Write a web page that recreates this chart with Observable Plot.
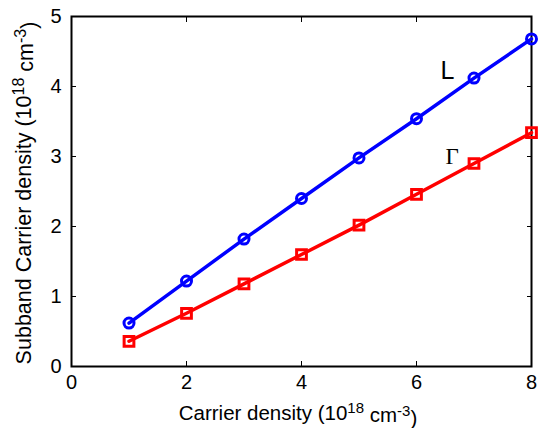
<!DOCTYPE html>
<html><head><meta charset="utf-8">
<script src="https://cdn.jsdelivr.net/npm/d3@7"></script>
<script src="https://cdn.jsdelivr.net/npm/@observablehq/plot@0.6"></script>
<style>body{margin:0;background:#fff}#c{width:540px;height:428px}</style>
</head><body><div id="c"></div>
<script>
const carrier = [1, 2, 3, 4, 5, 6, 7, 8];
const subbandL = [0.62, 1.22, 1.82, 2.40, 2.98, 3.54, 4.12, 4.68];
const subbandG = [0.36, 0.76, 1.18, 1.60, 2.02, 2.46, 2.90, 3.34];
const xTicks = [0, 2, 4, 6, 8];
const yTicks = [0, 1, 2, 3, 4, 5];

const dataL = carrier.map((x, i) => ({x, y: subbandL[i]}));
const dataG = carrier.map((x, i) => ({x, y: subbandG[i]}));
const font = "Liberation Sans, Arial, sans-serif";

const chart = Plot.plot({
  width: 540, height: 428,
  marginLeft: 71, marginRight: 9, marginTop: 16, marginBottom: 62,
  style: {fontFamily: font, fontSize: "20px", background: "#fff", color: "#000"},
  x: {domain: [0, 8]},
  y: {domain: [0, 5]},
  marks: [
    Plot.axisX(xTicks, {anchor: "bottom", tickSize: 0, tickPadding: 8, label: null, fontSize: 20, tickFormat: d3.format("d")}),
    Plot.axisY(yTicks, {anchor: "left", tickSize: 0, tickPadding: 10, label: null, fontSize: 20, tickFormat: d3.format("d")}),
    Plot.axisX(xTicks, {anchor: "bottom", tickSize: -5, text: null, label: null}),
    Plot.axisX(xTicks, {anchor: "top", tickSize: -5, text: null, label: null}),
    Plot.axisY(yTicks, {anchor: "left", tickSize: -5, text: null, label: null}),
    Plot.axisY(yTicks, {anchor: "right", tickSize: -5, text: null, label: null}),
    Plot.frame({stroke: "#000", strokeWidth: 2}),
    Plot.line(dataL, {x: "x", y: "y", stroke: "#0000ff", strokeWidth: 3.5}),
    Plot.dot(dataL, {x: "x", y: "y", r: 5, stroke: "#0000ff", strokeWidth: 3, fill: "none", symbol: "circle"}),
    Plot.line(dataG, {x: "x", y: "y", stroke: "#ff0000", strokeWidth: 3.5}),
    Plot.dot(dataG, {x: "x", y: "y", r: 5.5, stroke: "#ff0000", strokeWidth: 3, fill: "none", symbol: "square"}),
    Plot.text(["L"], {x: 6.54, y: 4.22, text: d => d, fontSize: 25, fontFamily: font, fill: "#000"}),
    Plot.text(["Γ"], {x: 6.62, y: 3.0, text: d => d, fontSize: 23, fontFamily: "Liberation Serif, Times New Roman, serif", fill: "#000"})
  ]
});
document.getElementById("c").appendChild(chart);

const svg = d3.select(chart);
function label(sel, base, sup) {
  sel.append("tspan").text(base + " (10");
  sel.append("tspan").attr("dy", "-0.45em").attr("font-size", sup).text("18");
  sel.append("tspan").attr("dy", "0.45em").text(" cm");
  sel.append("tspan").attr("dy", "-0.45em").attr("font-size", sup).text("-3");
  sel.append("tspan").attr("dy", "0.45em").text(")");
}
const xl = svg.append("text").attr("x", 298).attr("y", 420).attr("text-anchor", "middle")
  .attr("font-family", font).attr("font-size", 20.5).attr("fill", "#000");
label(xl, "Carrier density", "15px");
const yl = svg.append("text").attr("transform", "translate(31,193) rotate(-90)").attr("text-anchor", "middle")
  .attr("font-family", font).attr("font-size", 21.5).attr("fill", "#000");
label(yl, "Subband Carrier density", "16px");
</script>
</body></html>
